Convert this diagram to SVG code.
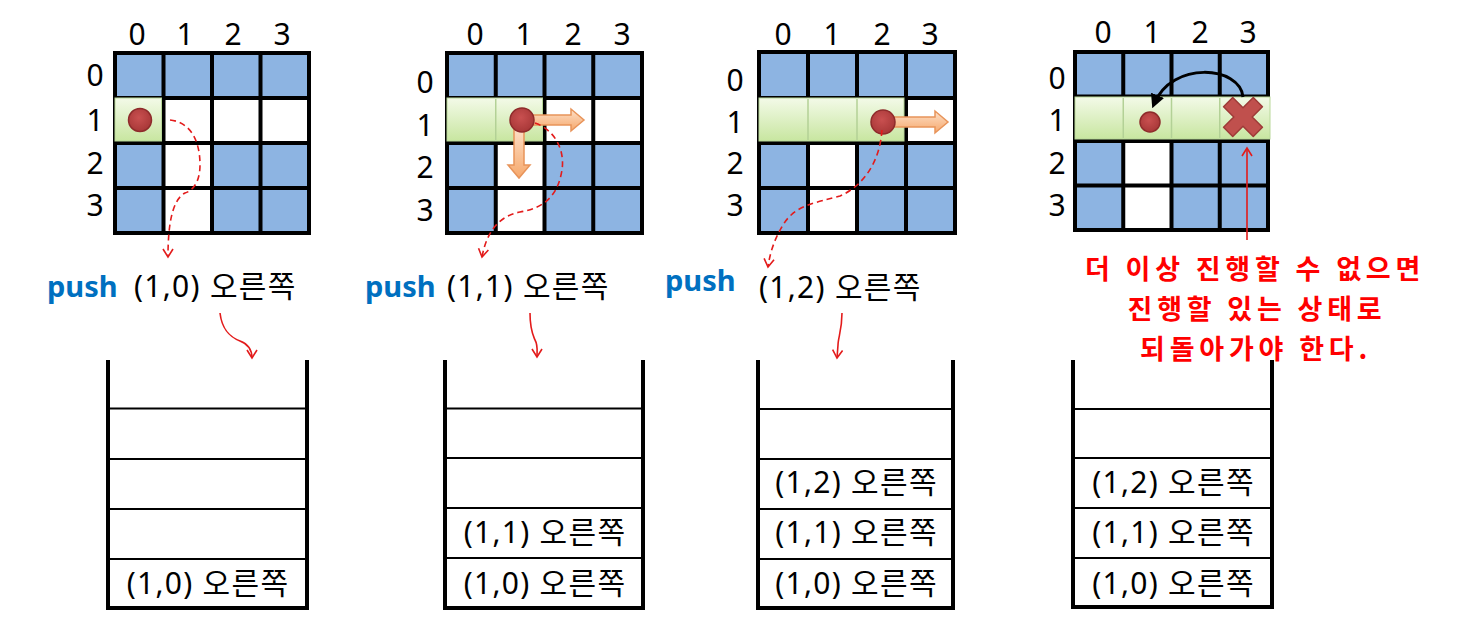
<svg xmlns="http://www.w3.org/2000/svg" width="1473" height="632" viewBox="0 0 1473 632">
<style>
.bg{fill:#8db4e2}
.wc{fill:#ffffff}
.gl{fill:none;stroke:#000;stroke-width:4;stroke-linecap:square}
.green{fill:url(#gGreen);stroke:#b9d89a;stroke-width:1}
.sep{stroke:#b3d196;stroke-width:1.5}
.dot{fill:url(#gDot);stroke:#8e2b2b;stroke-width:1.5}
.oarr{fill:url(#gOr);stroke:#e8945a;stroke-width:1.5}
.num{font-family:"Noto Sans","Noto Sans CJK KR",sans-serif;font-size:30px;fill:#000;text-anchor:middle}
.kr{font-family:"Noto Sans","Noto Sans CJK KR",sans-serif;font-size:30px;fill:#000;letter-spacing:1.3px}
.krm{font-family:"Noto Sans","Noto Sans CJK KR",sans-serif;font-size:30px;fill:#000;text-anchor:middle;letter-spacing:1.3px}
.push{font-family:"Noto Sans",sans-serif;font-weight:bold;font-size:29px;fill:#0070c0}
.warn{font-family:"Noto Sans CJK KR","Noto Sans",sans-serif;font-weight:bold;font-size:27px;fill:#ff0000;text-anchor:middle;letter-spacing:4.8px}
.dash{fill:none;stroke:#e31b1b;stroke-width:1.6;stroke-dasharray:6 4}
.thin{fill:none;stroke:#e31b1b;stroke-width:1.6}
.wall{fill:none;stroke:#000;stroke-width:4}
.shelf{stroke:#000;stroke-width:2}
</style>
<defs>
<linearGradient id="gGreen" x1="0" y1="0" x2="0" y2="1">
<stop offset="0" stop-color="#f3fae8"/>
<stop offset="1" stop-color="#c8e6a0"/>
</linearGradient>
<radialGradient id="gDot" cx="0.45" cy="0.4" r="0.6">
<stop offset="0" stop-color="#c95050"/>
<stop offset="1" stop-color="#a83838"/>
</radialGradient>
<linearGradient id="gOr" x1="0" y1="0" x2="0" y2="1">
<stop offset="0" stop-color="#fde0c8"/>
<stop offset="1" stop-color="#f6a86c"/>
</linearGradient>
<marker id="chev" viewBox="0 0 12 12" markerWidth="12" markerHeight="12" refX="10" refY="6" orient="auto" markerUnits="userSpaceOnUse">
<path d="M2,1 L10,6 L2,11" fill="none" stroke="#e31b1b" stroke-width="1.6"/>
</marker>
<marker id="blk" viewBox="0 0 12 12" markerWidth="14" markerHeight="14" refX="8" refY="6" orient="auto" markerUnits="userSpaceOnUse">
<path d="M0,0 L12,6 L0,12 Z" fill="#000"/>
</marker>
</defs>
<rect width="1473" height="632" fill="#fff"/>

<!-- Panel 1 -->
<g id="grid1">
<g transform="translate(115,53)">
<rect class="bg" x="0" y="0" width="194" height="180"/>
<rect class="wc" x="48.5" y="45" width="48.5" height="45"/>
<rect class="wc" x="97" y="45" width="48.5" height="45"/>
<rect class="wc" x="145.5" y="45" width="48.5" height="45"/>
<rect class="wc" x="48.5" y="90" width="48.5" height="45"/>
<rect class="wc" x="48.5" y="135" width="48.5" height="45"/>
<path class="gl" d="M0,0H194M0,45H194M0,90H194M0,135H194M0,180H194M0,0V180M48.5,0V180M97,0V180M145.5,0V180M194,0V180"/>
<rect class="green" x="0" y="45" width="46.5" height="43"/>
</g>
<text class="num" x="137" y="45">0</text><text class="num" x="185" y="45">1</text><text class="num" x="233" y="45">2</text><text class="num" x="282" y="45">3</text>
<text class="num" x="95" y="86">0</text><text class="num" x="95" y="131">1</text><text class="num" x="95" y="174">2</text><text class="num" x="95" y="216">3</text>
<circle class="dot" cx="140" cy="120" r="11.5"/>
</g>
<g id="label1">
<text class="push" x="47" y="297">push</text>
<text class="kr" x="134" y="297">(1,0) 오른쪽</text>
</g>
<g id="stack1">
<path class="wall" d="M108,360V608H307V360"/>
<path class="shelf" d="M110,408.5H305M110,459H305M110,509H305M110,559H305"/>
<text class="krm" x="208" y="594">(1,0) 오른쪽</text>
</g>

<!-- Panel 2 -->
<g id="grid2">
<g transform="translate(447,53)">
<rect class="bg" x="0" y="0" width="195" height="180"/>
<rect class="wc" x="97.5" y="45" width="48.75" height="45"/>
<rect class="wc" x="146.25" y="45" width="48.75" height="45"/>
<rect class="wc" x="48.75" y="90" width="48.75" height="45"/>
<rect class="wc" x="48.75" y="135" width="48.75" height="45"/>
<path class="gl" d="M0,0H195M0,45H195M0,90H195M0,135H195M0,180H195M0,0V180M48.75,0V180M97.5,0V180M146.25,0V180M195,0V180"/>
<rect class="green" x="0" y="45" width="95.5" height="43"/>
<line class="sep" x1="48.75" y1="46" x2="48.75" y2="87"/>
</g>
<text class="num" x="475" y="45">0</text><text class="num" x="524" y="45">1</text><text class="num" x="573" y="45">2</text><text class="num" x="622" y="45">3</text>
<text class="num" x="425" y="93">0</text><text class="num" x="425" y="136">1</text><text class="num" x="425" y="178">2</text><text class="num" x="425" y="221">3</text>
<path class="oarr" d="M530,115H571V109L584,120L571,131V125H530Z"/>
<path class="oarr" d="M514,128V165H508L519,178L530,165H524V128Z"/>
<circle class="dot" cx="522" cy="120" r="12"/>
</g>
<g id="label2">
<text class="push" x="365" y="297">push</text>
<text class="kr" x="447" y="297">(1,1) 오른쪽</text>
</g>
<g id="stack2">
<path class="wall" d="M445,360V608H643V360"/>
<path class="shelf" d="M447,408.5H641M447,458H641M447,508H641M447,558H641"/>
<text class="krm" x="545" y="543">(1,1) 오른쪽</text>
<text class="krm" x="545" y="594">(1,0) 오른쪽</text>
</g>

<!-- Panel 3 -->
<g id="grid3">
<g transform="translate(759,52)">
<rect class="bg" x="0" y="0" width="196" height="181"/>
<rect class="wc" x="147" y="46" width="49" height="45"/>
<rect class="wc" x="49" y="91" width="49" height="45"/>
<rect class="wc" x="49" y="136" width="49" height="45"/>
<path class="gl" d="M0,0H196M0,46H196M0,91H196M0,136H196M0,181H196M0,0V181M49,0V181M98,0V181M147,0V181M196,0V181"/>
<rect class="green" x="0" y="46" width="145" height="43"/>
<line class="sep" x1="49" y1="47" x2="49" y2="88"/>
<line class="sep" x1="98" y1="47" x2="98" y2="88"/>
</g>
<text class="num" x="783" y="45">0</text><text class="num" x="832" y="45">1</text><text class="num" x="882" y="45">2</text><text class="num" x="930" y="45">3</text>
<text class="num" x="735" y="91">0</text><text class="num" x="735" y="133">1</text><text class="num" x="735" y="174">2</text><text class="num" x="735" y="216">3</text>
<path class="oarr" d="M890,117H935V111L948,122L935,133V127H890Z"/>
<circle class="dot" cx="883" cy="122" r="12"/>
</g>
<g id="label3">
<text class="push" x="665" y="291">push</text>
<text class="kr" x="759" y="298">(1,2) 오른쪽</text>
</g>
<g id="stack3">
<path class="wall" d="M758,360V608H953V360"/>
<path class="shelf" d="M760,409H951M760,459H951M760,509H951M760,559H951"/>
<text class="krm" x="856.5" y="493">(1,2) 오른쪽</text>
<text class="krm" x="856.5" y="543">(1,1) 오른쪽</text>
<text class="krm" x="856.5" y="594">(1,0) 오른쪽</text>
</g>

<!-- Panel 4 -->
<g id="grid4">
<g transform="translate(1075,52)">
<rect class="bg" x="0" y="0" width="193" height="178"/>
<rect class="wc" x="48.25" y="89" width="48.25" height="44.5"/>
<rect class="wc" x="48.25" y="133.5" width="48.25" height="44.5"/>
<path class="gl" d="M0,0H193M0,44.5H193M0,89H193M0,133.5H193M0,178H193M0,0V178M48.25,0V178M96.5,0V178M144.75,0V178M193,0V178"/>
<rect class="green" x="0" y="45" width="195" height="42"/>
<line class="sep" x1="48.25" y1="46" x2="48.25" y2="86"/>
<line class="sep" x1="96.5" y1="46" x2="96.5" y2="86"/>
<line class="sep" x1="144.75" y1="46" x2="144.75" y2="86"/>
</g>
<text class="num" x="1103" y="43">0</text><text class="num" x="1152" y="43">1</text><text class="num" x="1200" y="43">2</text><text class="num" x="1248" y="43">3</text>
<text class="num" x="1057" y="89">0</text><text class="num" x="1057" y="131">1</text><text class="num" x="1057" y="174">2</text><text class="num" x="1057" y="216">3</text>
<circle class="dot" cx="1150" cy="122" r="10"/>
<g id="cross" transform="translate(1243,117) rotate(45)">
<path d="M-6.5,-21H6.5V-6.5H21V6.5H6.5V21H-6.5V6.5H-21V-6.5H-6.5Z" fill="#c0504d" stroke="#9e3b38" stroke-width="1.5" stroke-linejoin="round"/>
</g>
</g>
<g id="note">
<text class="warn" x="1255" y="279">더 이상 진행할 수 없으면</text>
<text class="warn" x="1257" y="319">진행할 있는 상태로</text>
<text class="warn" x="1256" y="359">되돌아가야 한다.</text>
</g>
<g id="stack4">
<path class="wall" d="M1073,360V607H1272V360"/>
<path class="shelf" d="M1075,409H1270M1075,458H1270M1075,508H1270M1075,558H1270"/>
<text class="krm" x="1173.5" y="493">(1,2) 오른쪽</text>
<text class="krm" x="1173.5" y="543">(1,1) 오른쪽</text>
<text class="krm" x="1173.5" y="594">(1,0) 오른쪽</text>
</g>

<!-- Connectors -->
<g id="connectors">
<path class="dash" marker-end="url(#chev)" d="M170,120C190,122 200,140 200,165C200,183 192,191 185,193C172,200 168,225 168,257"/>
<path class="dash" marker-end="url(#chev)" d="M535,123C555,130 565,150 562,170C558,195 545,208 520,212C500,216 487,230 482,257"/>
<path class="dash" marker-end="url(#chev)" d="M882,130C880,160 865,185 840,196C815,203 795,205 783,225C775,238 770,252 768,267"/>
<path class="thin" marker-end="url(#chev)" d="M220,313C222,330 230,337 240,341C248,344 252,350 252,358"/>
<path class="thin" marker-end="url(#chev)" d="M530,313C530,330 533,335 535,340C538,345 537,350 537,357"/>
<path class="thin" marker-end="url(#chev)" d="M842,313C842,330 838,338 838,345L837,358"/>
<path fill="none" stroke="#000" stroke-width="3" marker-end="url(#blk)" d="M1243,97C1240,66 1172,60 1154,104"/>
<path class="thin" marker-end="url(#chev)" d="M1247,240V148"/>
</g>
</svg>
